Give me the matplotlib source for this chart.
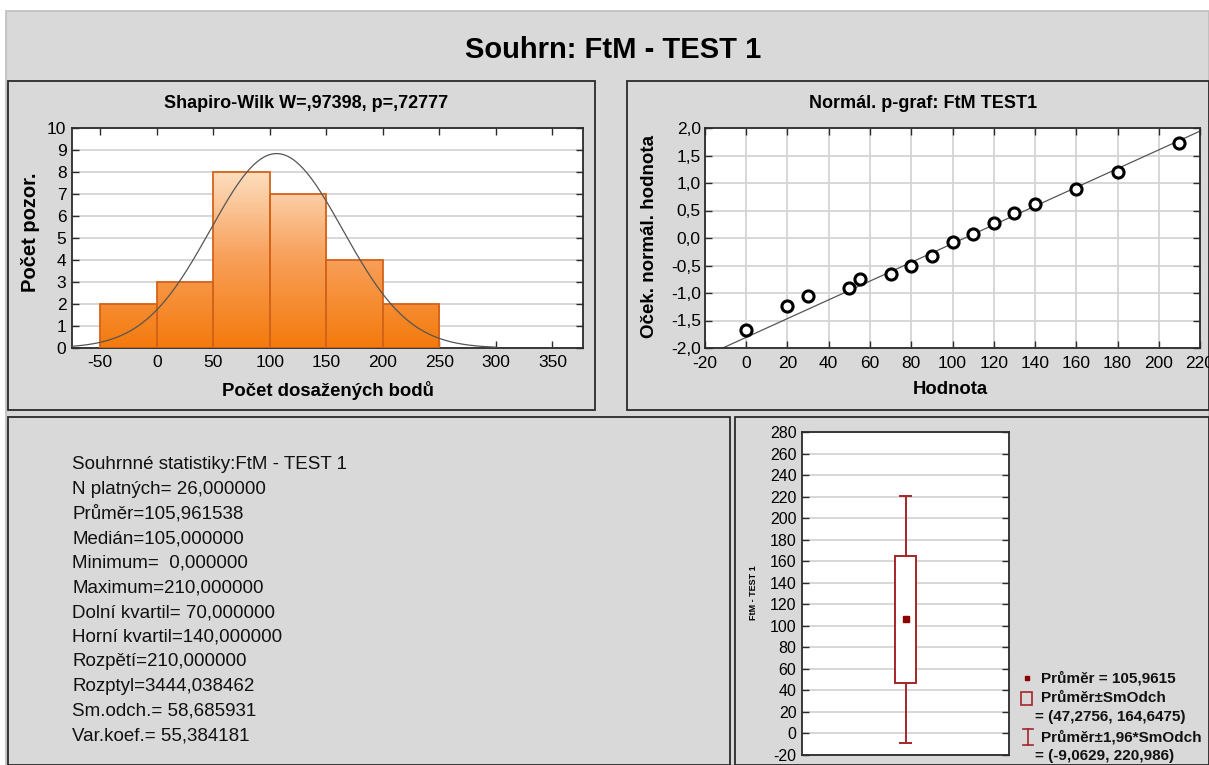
import numpy as np
import matplotlib
matplotlib.use("Agg")
import matplotlib.pyplot as plt
from matplotlib.patches import Rectangle
from matplotlib.colors import LinearSegmentedColormap
from matplotlib.lines import Line2D

plt.rcParams["axes.unicode_minus"] = False

# ---- data ----
bin_edges = [-50, 0, 50, 100, 150, 200, 250]
bin_counts = [2, 3, 8, 7, 4, 2]

n_valid = 26
mean = 105.961538
sd = 58.685931

pp_hodnota = [0, 20, 30, 50, 55, 70, 80, 90, 100, 110, 120, 130, 140, 160, 180, 210]
pp_expected = [-1.68, -1.24, -1.05, -0.90, -0.75, -0.65, -0.50, -0.32, -0.08,
               0.07, 0.27, 0.46, 0.62, 0.90, 1.20, 1.73]

box_low, box_high = 47.2756, 164.6475
whisk_low, whisk_high = -9.0629, 220.986

stats_lines = [
    "Souhrnné statistiky:FtM - TEST 1",
    "N platných= 26,000000",
    "Průměr=105,961538",
    "Medián=105,000000",
    "Minimum=  0,000000",
    "Maximum=210,000000",
    "Dolní kvartil= 70,000000",
    "Horní kvartil=140,000000",
    "Rozpětí=210,000000",
    "Rozptyl=3444,038462",
    "Sm.odch.= 58,685931",
    "Var.koef.= 55,384181",
]

W, H = 1209, 765
BG = "#d9d9d9"
DARK = "#2b2b2b"
RED = "#a3262a"
narrow = ["Liberation Sans Narrow", "Liberation Sans", "DejaVu Sans"]
sans = ["Liberation Sans", "DejaVu Sans"]

fig = plt.figure(figsize=(W / 100, H / 100), dpi=100)
fig.patch.set_facecolor("white")


def fx(x):
    return x / W


def fy(y):
    return 1 - y / H


def px_axes(x0, y0, x1, y1):
    return fig.add_axes([fx(x0), fy(y1), (x1 - x0) / W, (y1 - y0) / H])


def panel(x0, y0, x1, y1, ec=DARK, lw=1.3):
    fig.add_artist(Rectangle((fx(x0), fy(y1)), (x1 - x0) / W, (y1 - y0) / H,
                             transform=fig.transFigure, facecolor="none",
                             edgecolor=ec, linewidth=lw, zorder=-5))


def style_axes(ax, lsize=12.5):
    ax.set_facecolor("white")
    for s in ax.spines.values():
        s.set_color(DARK)
        s.set_linewidth(1.3)
    ax.tick_params(direction="in", length=5, width=1, color=DARK,
                   top=True, right=True, labelsize=lsize, pad=4)
    for lab in ax.get_xticklabels() + ax.get_yticklabels():
        lab.set_family(narrow)
    ax.set_axisbelow(True)


# gray background
fig.add_artist(Rectangle((fx(6), 0), 1 - fx(6), fy(11), transform=fig.transFigure,
                         facecolor=BG, edgecolor="#bdbdbd", linewidth=1.2, zorder=-10))
panel(8, 81, 595, 410)
panel(627, 81, 1209, 410)
panel(8, 417, 730, 765)
panel(735, 417, 1209, 765)

fig.text(fx(613), fy(50), "Souhrn: FtM - TEST 1", ha="center", va="center",
         fontsize=21, fontweight="bold", family=sans)

# ---- histogram ----
ax1 = px_axes(72, 128, 583, 348)
cmap = LinearSegmentedColormap.from_list("og", ["#f47a0c", "#f8a05a", "#fde2c6"])
widths = np.diff(bin_edges)
bars = ax1.bar(bin_edges[:-1], bin_counts, width=widths, align="edge",
               facecolor="none", edgecolor="#d4631a", linewidth=1.3, zorder=3)
for b, x0, w, h in zip(bars, bin_edges[:-1], widths, bin_counts):
    grad = np.linspace(0, h, 200).reshape(-1, 1)
    im = ax1.imshow(grad, extent=[x0, x0 + w, 0, h], origin="lower", cmap=cmap,
                    vmin=0, vmax=8.3, aspect="auto", zorder=2)
    im.set_clip_path(b)
xc = np.linspace(-75, 300, 400)
yc = n_valid * 50 / (sd * np.sqrt(2 * np.pi)) * np.exp(-0.5 * ((xc - mean) / sd) ** 2)
ax1.plot(xc, yc, color="#555555", linewidth=0.9, zorder=4)
ax1.set_xlim(-75, 377)
ax1.set_ylim(0, 10)
ax1.set_xticks(range(-50, 351, 50))
ax1.set_yticks(range(0, 11))
ax1.yaxis.grid(True, color="#d4d4d4", linewidth=1.3)
style_axes(ax1)
ax1.tick_params(axis="x", pad=5)
fig.text(fx(306), fy(103), "Shapiro-Wilk W=,97398, p=,72777", ha="center", va="center",
         fontsize=13, fontweight="bold", family=sans)
fig.text(fx(31), fy(232), "Počet pozor.", ha="center", va="center", rotation=90,
         fontsize=14.5, fontweight="bold", family=sans)
fig.text(fx(328), fy(390), "Počet dosažených bodů", ha="center", va="center",
         fontsize=13.3, fontweight="bold", family=sans)

# ---- normal probability plot ----
ax2 = px_axes(705, 128, 1200, 348)
xl = np.array([-20, 220])
ax2.plot(xl, (xl - mean) / sd, color="#555555", linewidth=0.9, zorder=2)
ax2.plot(pp_hodnota, pp_expected, linestyle="none", marker="o", markersize=8,
         markerfacecolor="white", markeredgecolor="black", markeredgewidth=2.2, zorder=3)
ax2.set_xlim(-20, 220)
ax2.set_ylim(-2, 2)
ax2.set_xticks(range(-20, 221, 20))
ax2.set_yticks(np.arange(-2, 2.01, 0.5))
ax2.set_yticklabels([f"{v:.1f}".replace(".", ",") for v in np.arange(-2, 2.01, 0.5)])
ax2.grid(True, color="#d4d4d4", linewidth=1.3)
style_axes(ax2)
ax2.tick_params(axis="x", pad=6)
ax2.tick_params(axis="y", pad=3)
fig.text(fx(923), fy(103), "Normál. p-graf: FtM TEST1", ha="center", va="center",
         fontsize=13, fontweight="bold", family=sans)
fig.text(fx(650), fy(236), "Oček. normál. hodnota", ha="center", va="center", rotation=90,
         fontsize=13.5, fontweight="bold", family=sans)
fig.text(fx(950), fy(390), "Hodnota", ha="center", va="center",
         fontsize=13.3, fontweight="bold", family=sans)

# ---- summary text ----
for i, line in enumerate(stats_lines):
    fig.text(fx(72), fy(465 + i * 24.6), line, ha="left", va="center",
             fontsize=13.5, family=sans, color="#111111")

# ---- box plot ----
ax3 = px_axes(802, 432, 1009, 755)
ax3.add_patch(Rectangle((0.45, box_low), 0.1, box_high - box_low, facecolor="white",
                        edgecolor=RED, linewidth=1.4, zorder=3))
ax3.plot([0.5, 0.5], [box_high, whisk_high], color=RED, linewidth=1.4, zorder=2)
ax3.plot([0.5, 0.5], [whisk_low, box_low], color=RED, linewidth=1.4, zorder=2)
ax3.plot([0.475, 0.525], [whisk_high, whisk_high], color=RED, linewidth=1.4, zorder=2)
ax3.plot([0.475, 0.525], [whisk_low, whisk_low], color=RED, linewidth=1.4, zorder=2)
ax3.plot([0.5], [mean], marker="s", markersize=4, color="#8b0000", zorder=4)
ax3.set_xlim(0, 1)
ax3.set_ylim(-20, 280)
ax3.set_xticks([])
ax3.set_yticks(range(-20, 281, 20))
ax3.yaxis.grid(True, color="#d4d4d4", linewidth=1.3)
style_axes(ax3, lsize=11.5)
ax3.tick_params(axis="x", top=False, bottom=False)
fig.text(fx(753), fy(593), "FtM - TEST 1", ha="center", va="center", rotation=90,
         fontsize=6.5, fontweight="bold", family=sans)

# legend
leg_font = dict(fontsize=11, fontweight="bold", family=narrow, va="center", ha="left",
                color="#111111")
fig.add_artist(Line2D([fx(1027)], [fy(678)], marker="s", markersize=3.5, color="#8b0000",
                      transform=fig.transFigure))
fig.text(fx(1041), fy(678), "Průměr = 105,9615", **leg_font)
fig.add_artist(Rectangle((fx(1021), fy(705)), 11 / W, 13 / H, transform=fig.transFigure,
                         facecolor="none", edgecolor=RED, linewidth=1.2))
fig.text(fx(1041), fy(698), "Průměr±SmOdch", **leg_font)
fig.text(fx(1035), fy(717), "= (47,2756, 164,6475)", **leg_font)
fig.add_artist(Line2D([fx(1028), fx(1028)], [fy(729), fy(745)], color=RED, linewidth=1.2,
                      transform=fig.transFigure))
fig.add_artist(Line2D([fx(1023), fx(1033)], [fy(729), fy(729)], color=RED, linewidth=1.2,
                      transform=fig.transFigure))
fig.add_artist(Line2D([fx(1023), fx(1033)], [fy(745), fy(745)], color=RED, linewidth=1.2,
                      transform=fig.transFigure))
fig.text(fx(1041), fy(737), "Průměr±1,96*SmOdch", **leg_font)
fig.text(fx(1035), fy(756), "= (-9,0629, 220,986)", **leg_font)

fig.savefig("out.png", dpi=100, facecolor=fig.get_facecolor())
